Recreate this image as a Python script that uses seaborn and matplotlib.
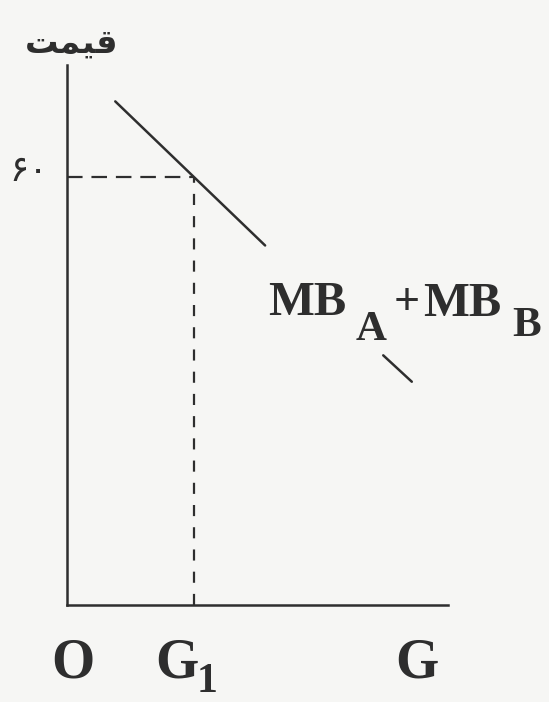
import matplotlib
matplotlib.use("Agg")
import matplotlib.pyplot as plt
import seaborn as sns
import pandas as pd

# Combined marginal benefit curve (two visible pieces, the label sits in the gap)
upper_q = [7.6, 31.2]
upper_p = [70.6, 50.4]
lower_q = [49.8, 54.3]
lower_p = [35.0, 31.3]

# Chosen point on the curve
g1_q = 20.0
price_level = 60.0

axis_labels = {"y": "\uFE96\uFEE4\uFEF4\uFED7", "price": "\u06F6\u06F0"}
x_labels = ["O", "G", "G"]

sns.set_theme(style="white")
plt.rcParams["font.family"] = ["Liberation Serif", "DejaVu Sans"]

ink = "#2e2e2e"
paper = "#f6f6f4"

fig = plt.figure(figsize=(5.49, 7.02), dpi=100, facecolor=paper)
ax = fig.add_axes([67 / 549, 97 / 702, 381 / 549, 540 / 702])
ax.set_facecolor(paper)

upper = pd.DataFrame({"q": upper_q, "p": upper_p})
lower = pd.DataFrame({"q": lower_q, "p": lower_p})
sns.lineplot(data=upper, x="q", y="p", ax=ax, color=ink, lw=1.8, sort=False)
sns.lineplot(data=lower, x="q", y="p", ax=ax, color=ink, lw=1.8, sort=False)

# Guide lines from the point to the axes
ax.plot([0, g1_q], [price_level, price_level], color=ink, lw=1.6,
        linestyle=(0, (7, 4)))
ax.plot([g1_q, g1_q], [0, price_level], color=ink, lw=1.6,
        linestyle=(0, (5, 5)))

ax.set_xlim(0, 60)
ax.set_ylim(0, 75.7)
ax.set_xticks([])
ax.set_yticks([])
ax.set_xlabel("")
ax.set_ylabel("")
sns.despine(ax=ax)
for side in ("left", "bottom"):
    ax.spines[side].set_color(ink)
    ax.spines[side].set_linewidth(1.8)


def fx(px):
    return px / 549


def fy(py):
    return 1 - py / 702


serif = dict(family="Liberation Serif", weight="bold", color=ink)

# Axis title and value label (Persian)
fig.text(fx(72), fy(43), axis_labels["y"], ha="center", va="center",
         fontsize=24, weight="bold", family=["DejaVu Sans"], color=ink)
fig.text(fx(29), fy(171), axis_labels["price"], ha="center", va="center",
         fontsize=26, family=["DejaVu Sans"], color=ink)

# Horizontal axis labels
fig.text(fx(73), fy(677), x_labels[0], ha="center", va="baseline",
         fontsize=40, **serif)
fig.text(fx(177), fy(677), x_labels[1], ha="center", va="baseline",
         fontsize=40, **serif)
fig.text(fx(207), fy(701), "1", ha="center", va="bottom",
         fontsize=30, **serif)
fig.text(fx(417), fy(677), x_labels[2], ha="center", va="baseline",
         fontsize=40, **serif)

# Curve label
fig.text(fx(268), fy(315), "MB", ha="left", va="baseline", fontsize=35, **serif)
fig.text(fx(371), fy(340), "A", ha="center", va="baseline", fontsize=31, **serif)
fig.text(fx(407), fy(315), "+", ha="center", va="baseline", fontsize=33, **serif)
fig.text(fx(423), fy(316), "MB", ha="left", va="baseline", fontsize=35, **serif)
fig.text(fx(527), fy(336), "B", ha="center", va="baseline", fontsize=31, **serif)

fig.savefig("out.png", dpi=100, facecolor=paper)
